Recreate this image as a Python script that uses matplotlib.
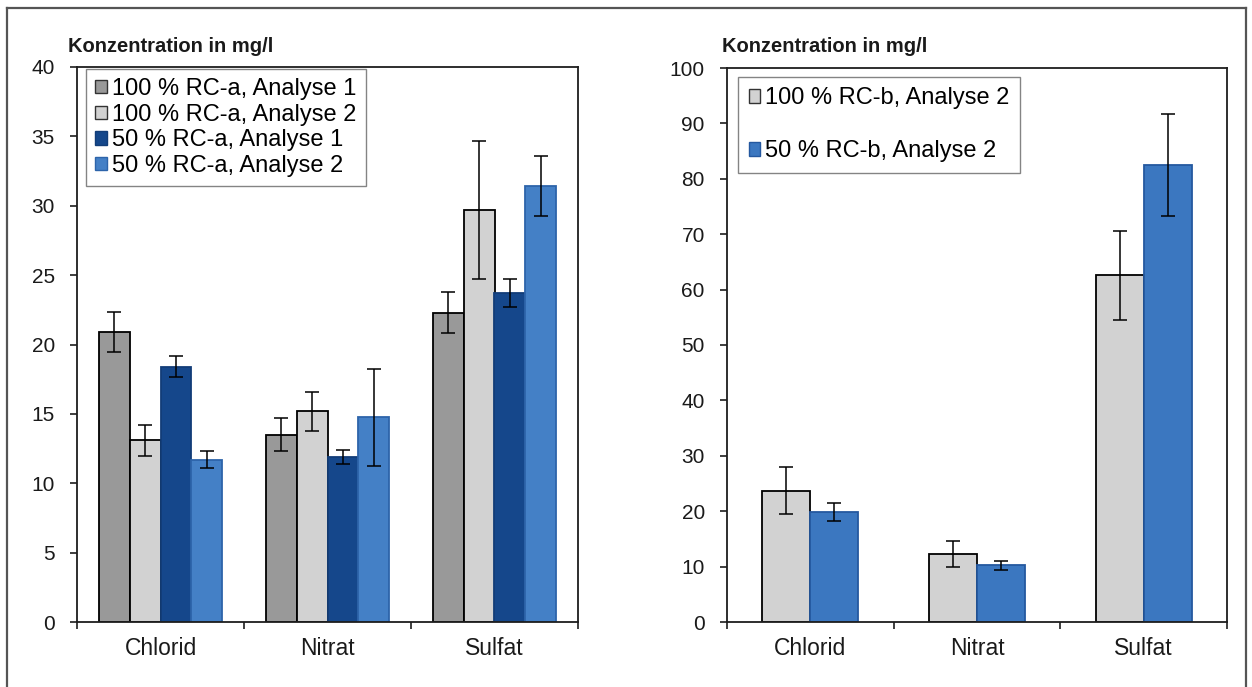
import matplotlib
matplotlib.use("Agg")
import matplotlib.pyplot as plt
import numpy as np
from matplotlib.patches import Patch
from matplotlib.lines import Line2D

plt.rcParams['font.family'] = ['Liberation Sans', 'DejaVu Sans']

# ---- data ----
categories = ["Chlorid", "Nitrat", "Sulfat"]

# RC-a (left panel)
rca_labels = ["100 % RC-a, Analyse 1", "100 % RC-a, Analyse 2",
              "50 % RC-a, Analyse 1", "50 % RC-a, Analyse 2"]
rca_100_a1 = [20.9, 13.5, 22.3]
rca_100_a1_err = [1.45, 1.2, 1.5]
rca_100_a2 = [13.1, 15.2, 29.7]
rca_100_a2_err = [1.1, 1.4, 4.95]
rca_50_a1 = [18.4, 11.9, 23.7]
rca_50_a1_err = [0.75, 0.5, 1.0]
rca_50_a2 = [11.7, 14.75, 31.4]
rca_50_a2_err = [0.6, 3.5, 2.15]

# RC-b (right panel)
rcb_labels = ["100 % RC-b, Analyse 2", "50 % RC-b, Analyse 2"]
rcb_100_a2 = [23.7, 12.3, 62.6]
rcb_100_a2_err = [4.25, 2.35, 8.0]
rcb_50_a2 = [19.85, 10.2, 82.5]
rcb_50_a2_err = [1.7, 0.9, 9.2]

left_yticks = [0, 5, 10, 15, 20, 25, 30, 35, 40]
right_yticks = [0, 10, 20, 30, 40, 50, 60, 70, 80, 90, 100]
ylabel_text = "Konzentration in mg/l"

# ---- styles ----
C_DGRAY = "#999999"
C_LGRAY = "#d2d2d2"
C_DBLUE = "#15478b"
C_MBLUE = "#4480c6"
C_RBLUE = "#3b77c0"
SPINE = "#1e1e1e"

W, H = 1252, 687
fig = plt.figure(figsize=(W / 100, H / 100), dpi=100)
fig.patch.set_facecolor("white")

# outer frame of the figure
frame_kw = dict(color="#555555", lw=1.6, transform=fig.transFigure, clip_on=False)
fig.add_artist(Line2D([7 / W, 7 / W], [0, 1 - 8 / H], **frame_kw))
fig.add_artist(Line2D([7 / W, 1246 / W], [1 - 8 / H, 1 - 8 / H], **frame_kw))
fig.add_artist(Line2D([1246 / W, 1246 / W], [0, 1 - 8 / H], **frame_kw))

def px_axes(x0, x1, y_top, y_bot):
    return fig.add_axes([x0 / W, 1 - y_bot / H, (x1 - x0) / W, (y_bot - y_top) / H])

ax1 = px_axes(77, 578, 67, 622)
ax2 = px_axes(727, 1227, 68, 622)

err_kw = dict(ecolor="black", elinewidth=1.1, capsize=4.7, capthick=1.1)
x = np.arange(len(categories))


def style_axes(ax, yticks):
    ax.set_xlim(-0.5, 2.5)
    ax.set_ylim(yticks[0], yticks[-1])
    ax.set_yticks(yticks)
    ax.set_xticks(x)
    ax.set_xticklabels(categories, fontsize=16.5, color="#1a1a1a")
    ax.set_xticks([-0.5, 0.5, 1.5, 2.5], minor=True)
    ax.tick_params(axis="x", which="major", length=0, pad=11)
    ax.tick_params(axis="x", which="minor", length=5, width=1.2,
                   direction="out", color=SPINE)
    ax.tick_params(axis="y", length=5, width=1.2, direction="out",
                   color=SPINE, labelsize=15, labelcolor="#1a1a1a", pad=11)
    for s in ax.spines.values():
        s.set_color(SPINE)
        s.set_linewidth(1.3)
    ax.set_facecolor("white")


# ---- left panel ----
bw = 0.185
series_a = [
    (rca_100_a1, rca_100_a1_err, C_DGRAY, "black"),
    (rca_100_a2, rca_100_a2_err, C_LGRAY, "black"),
    (rca_50_a1, rca_50_a1_err, C_DBLUE, "#123d78"),
    (rca_50_a2, rca_50_a2_err, C_MBLUE, "#2d64aa"),
]
handles_a = []
for i, (vals, errs, fc, ec) in enumerate(series_a):
    pos = x + (i - 1.5) * bw
    ax1.bar(pos, vals, width=bw, color=fc, edgecolor=ec, linewidth=1.3, zorder=2)
    ax1.errorbar(pos, vals, yerr=errs, fmt="none", zorder=3, **err_kw)
    handles_a.append(Patch(facecolor=fc, edgecolor="#333333" if ec == "black" else ec,
                           linewidth=1.0))
style_axes(ax1, left_yticks)
leg1 = ax1.legend(handles_a, rca_labels, loc="upper left",
                  bbox_to_anchor=(0.018, 0.997), borderaxespad=0,
                  fontsize=17, frameon=True, fancybox=False,
                  handlelength=0.5, handleheight=0.5, handletextpad=0.2,
                  labelspacing=0.15, borderpad=0.4)
leg1.get_frame().set_edgecolor("#666666")
leg1.get_frame().set_linewidth(1.0)

# ---- right panel ----
bw2 = 0.288
series_b = [
    (rcb_100_a2, rcb_100_a2_err, C_LGRAY, "black"),
    (rcb_50_a2, rcb_50_a2_err, C_RBLUE, "#24589f"),
]
handles_b = []
for i, (vals, errs, fc, ec) in enumerate(series_b):
    pos = x + (i - 0.5) * bw2
    ax2.bar(pos, vals, width=bw2, color=fc, edgecolor=ec, linewidth=1.3, zorder=2)
    ax2.errorbar(pos, vals, yerr=errs, fmt="none", zorder=3, **err_kw)
    handles_b.append(Patch(facecolor=fc, edgecolor="#333333" if ec == "black" else ec,
                           linewidth=1.0))
style_axes(ax2, right_yticks)
leg2 = ax2.legend(handles_b, rcb_labels, loc="upper left",
                  bbox_to_anchor=(0.022, 0.984), borderaxespad=0,
                  fontsize=17, frameon=True, fancybox=False,
                  handlelength=0.5, handleheight=0.5, handletextpad=0.2,
                  labelspacing=1.3, borderpad=0.45)
leg2.get_frame().set_edgecolor("#666666")
leg2.get_frame().set_linewidth(1.0)

# axis titles above each panel
fig.text(68 / W, 1 - 47 / H, ylabel_text, fontsize=14.5, fontweight="bold",
         ha="left", va="center", color="#1a1a1a")
fig.text(722 / W, 1 - 47 / H, ylabel_text, fontsize=14.5, fontweight="bold",
         ha="left", va="center", color="#1a1a1a")

fig.savefig("out.png", dpi=100)
